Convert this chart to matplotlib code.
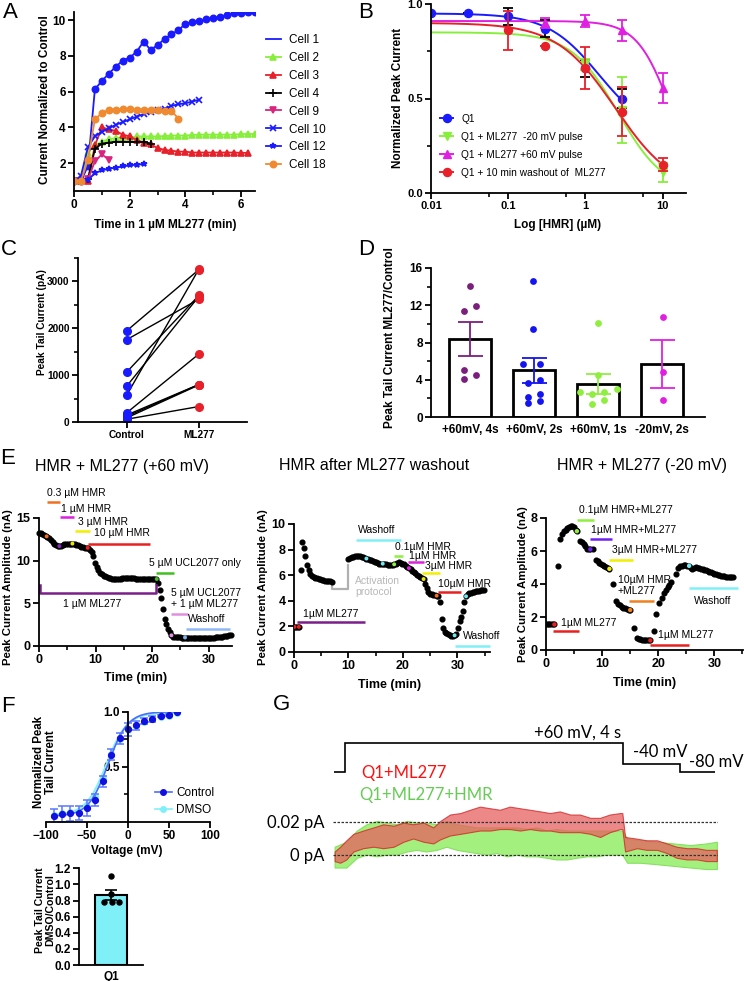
import numpy as np
import matplotlib
matplotlib.use("Agg")
import matplotlib.pyplot as plt
from matplotlib.lines import Line2D

W, H = 744, 981
plt.rcParams['font.family'] = ['Liberation Sans', 'DejaVu Sans']
plt.rcParams['font.weight'] = 'bold'
plt.rcParams['axes.linewidth'] = 1.3

# ======================= DATA =======================
# ---- Panel A: normalized current vs time in ML277
a_time = [0.0, 0.25, 0.5, 0.75, 1.0, 1.25, 1.5, 1.75, 2.0, 2.25, 2.5, 2.75, 3.0, 3.25,
          3.5, 3.75, 4.0, 4.25, 4.5, 4.75, 5.0, 5.25, 5.5, 5.75, 6.0, 6.25, 6.5]
a_names = ['Cell 1', 'Cell 2', 'Cell 3', 'Cell 4', 'Cell 9', 'Cell 10', 'Cell 12', 'Cell 18']
a_cell1 = [1.0, 1.0, 1.85, 6.13, 6.6, 7.0, 7.4, 7.73, 7.9, 8.23, 8.8, 8.33, 8.6, 8.94, 9.2,
           9.44, 9.78, 9.9, 9.92, 10.04, 10.1, 10.19, 10.28, 10.4, 10.4, 10.46, 10.44]
a_cell2 = [1.0, 1.0, 2.6, 3.0, 3.2, 3.35, 3.4, 3.45, 3.45, 3.5, 3.5, 3.5, 3.5, 3.52, 3.55,
           3.55, 3.55, 3.58, 3.6, 3.6, 3.6, 3.6, 3.6, 3.6, 3.62, 3.65, 3.62]
a_cell3 = [1.0, 1.0, 1.0, 3.0, 4.0, 3.9, 3.8, 3.6, 3.5, 3.3, 3.15, 3.05, 2.85, 2.75, 2.7,
           2.65, 2.65, 2.6, 2.6, 2.6, 2.6, 2.6, 2.6, 2.6, 2.58, 2.58]
a_cell4 = [1.0, 1.0, 1.1, 2.8, 3.1, 3.15, 3.2, 3.2, 3.2, 3.2, 3.2, 3.1]
a_cell9 = [1.0, 1.0, 1.1, 2.1, 2.5, 2.2]
a_cell10 = [1.0, 1.3, 2.9, 3.5, 3.75, 3.95, 4.15, 4.3, 4.45, 4.6, 4.75, 4.85, 4.95, 5.05,
            5.2, 5.3, 5.35, 5.45, 5.55]
a_cell12 = [1.0, 1.0, 1.05, 1.45, 1.6, 1.7, 1.75, 1.82, 1.88, 1.92, 1.95]
a_cell18 = [1.0, 1.0, 2.2, 4.45, 4.8, 5.0, 5.0, 5.05, 5.02, 5.0, 5.0, 4.98, 4.95, 4.9, 4.92, 4.5]

# ---- Panel B: dose response (mean, sem) + Hill fit parameters
b_labels = ['Q1', 'Q1 + ML277  -20 mV pulse', 'Q1 + ML277 +60 mV pulse',
            'Q1 + 10 min washout of  ML277']
b_conc_q1 = [0.01, 0.03, 0.1, 0.3, 1, 3]
b_q1 = [0.95, 0.95, 0.935, 0.87, 0.66, 0.50]
b_q1_err = [0.0, 0.0, 0.045, 0.045, 0.045, 0.05]
b_conc_m20 = [1, 3, 10]
b_m20 = [0.68, 0.44, 0.11]
b_m20_err = [0.03, 0.175, 0.05]
b_conc_p60 = [0.3, 1, 3, 10]
b_p60 = [0.90, 0.91, 0.86, 0.555]
b_p60_err = [0.025, 0.03, 0.055, 0.08]
b_conc_wash = [0.1, 0.3, 1, 3, 10]
b_wash = [0.86, 0.78, 0.66, 0.43, 0.15]
b_wash_err = [0.105, 0.0, 0.11, 0.13, 0.035]
# fitted Hill curves: (top, bottom, IC50, n, max conc)
b_fit_q1 = (0.95, 0.30, 1.5, 1.3, 3)
b_fit_m20 = (0.85, 0.0, 2.64, 1.43, 10)
b_fit_p60 = (0.91, 0.0, 12.5, 2.0, 10)
b_fit_wash = (0.90, 0.0, 2.43, 1.14, 10)

# ---- Panel C: paired peak tail currents (pA)
c_groups = ['Control', 'ML277']
c_control = [1950, 1760, 1070, 770, 580, 200, 150, 120, 90, 60]
c_ml277 = [3250, 2620, 2700, 2680, 3260, 1450, 800, 800, 790, 330]

# ---- Panel D: ratio ML277/control
d_groups = ['+60mV, 4s', '+60mV, 2s', '+60mV, 1s', '-20mV, 2s']
d_means = [8.4, 5.0, 3.55, 5.7]
d_sems = [1.8, 1.3, 1.05, 2.6]
d_points = [[14.1, 11.9, 11.4, 5.0, 4.5, 4.1],
            [14.6, 9.5, 5.7, 5.7, 4.0, 3.6, 2.5, 2.1, 1.7, 1.5],
            [10.1, 4.5, 3.0, 2.7, 2.7, 2.5, 1.8, 1.4],
            [10.7, 4.8, 1.8]]

# ---- Panel E1: HMR + ML277 (+60 mV), sampled every 0.3 min
e1_dt = 0.3
e1_vals = [13.3, 13.2, 13.1, 13.0, 12.9, 12.75, 12.6, 12.4, 12.2, 12.0,
           11.85, 11.75, 11.7, 11.75, 11.85, 11.95, 12.0, 12.0, 12.0, 12.0,
           11.95, 11.9, 11.85, 11.8, 11.7, 11.6, 11.55, 11.5, 11.5, 11.45,
           11.3, 11.0, 10.5, 9.7, 9.2, 8.9, 8.6, 8.4, 8.25, 8.15,
           8.05, 8.0, 7.95, 7.9, 7.9,
           7.9, 7.9, 7.9, 7.9, 7.95, 7.95, 7.95, 7.95, 7.95, 7.95, 7.95, 7.95, 7.9,
           7.9, 7.9, 7.9, 7.9, 7.9, 7.9, 7.9, 7.9, 7.85, 7.85, 7.85, 7.85,
           7.4, 6.6, 5.6, 4.3, 3.2, 2.6, 2.0, 1.6, 1.25, 1.1, 1.05,
           1.0, 1.0, 1.0, 0.98, 0.97, 0.96, 0.95, 0.95, 0.94, 0.93, 0.92, 0.92,
           0.91, 0.9, 0.9, 0.9, 0.9, 0.9, 0.91, 0.92, 0.94, 0.96, 0.98, 1.0,
           1.02, 1.05, 1.08, 1.11, 1.15, 1.19, 1.23, 1.28, 1.33]
e1_evt_t = [1.35, 3.6, 5.9, 8.6, 20.8, 23.4, 25.8]
e1_evt_v = [12.85, 11.7, 12.0, 11.5, 7.85, 1.25, 1.0]
e1_evt_c = ['#F07020', '#8A2BC0', '#E8E800', '#E82020', '#40C020', '#E090E0', '#80B0F0']
e1_bar_labels = ['0.3 µM HMR', '1 µM HMR', '3 µM HMR', '10 µM HMR', '5 µM UCL2077 only',
                 '5 µM UCL2077\n+ 1 µM ML277', 'Washoff']
e1_bar_start = [1.4, 3.7, 6.3, 8.7, 20.6, 23.3, 25.9]
e1_bar_end = [3.7, 6.2, 9.0, 19.6, 23.8, 26.3, 33.7]
e1_bar_level = [16.9, 15.1, 13.5, 12.0, 8.6, 3.8, 2.05]
e1_bar_colors = ['#F07020', '#E020E0', '#F0F000', '#E82020', '#40C020', '#E090E0', '#90B8F8']
e1_ml277_span = (0.1, 20.6, 6.25, 7.2)

# ---- Panel E2: HMR after ML277 washout
e2_t1 = [0.1, 0.4, 0.7, 0.9, 1.2, 1.5, 1.8, 2.1, 2.4, 2.7, 3.0, 3.3, 3.6, 3.9, 4.2, 4.5,
         4.8, 5.1, 5.4, 5.7, 6.0, 6.3, 6.6, 6.9]
e2_v1 = [1.96, 1.96, 1.96, 1.96, 6.4, 8.6, 8.1, 7.5, 6.8, 6.4, 6.1, 5.95, 5.85, 5.8, 5.75,
         5.7, 5.67, 5.63, 5.6, 5.58, 5.56, 5.55, 5.52, 5.5]
e2_t2_start = 10.0
e2_dt = 0.3
e2_v2 = [7.3, 7.35, 7.4, 7.45, 7.5, 7.5, 7.5, 7.5, 7.45, 7.4, 7.35, 7.3, 7.25, 7.2, 7.15,
         7.1, 7.05, 7.0, 6.95, 6.9, 6.9, 6.9, 6.88, 6.85, 6.83, 6.8, 6.8, 6.8, 6.85, 6.9,
         6.95, 7.0, 6.98, 6.9, 6.85, 6.75, 6.65, 6.55, 6.45, 6.35, 6.25, 6.15, 6.05, 5.95,
         5.85, 5.8, 5.7, 5.35, 5.0, 4.7, 4.55, 4.5, 4.45, 4.42, 4.4, 4.38, 3.9, 2.6, 1.85,
         1.6, 1.45, 1.38, 1.32, 1.28, 1.25, 1.3, 1.38, 1.9, 2.4, 2.75, 3.2, 3.9, 4.35, 4.5,
         4.58, 4.63, 4.68, 4.72, 4.75, 4.78, 4.8, 4.82, 4.85, 4.88]
e2_protocol_t = [6.9, 6.9, 10.0, 10.0]
e2_protocol_v = [5.5, 4.96, 4.96, 6.8]
e2_evt_t = [0.1, 0.9, 13.3, 16.3, 18.4, 21.1, 23.8, 26.2, 29.5, 31.6]
e2_evt_v = [1.96, 1.96, 7.3, 6.9, 6.85, 6.55, 5.7, 4.4, 1.3, 4.35]
e2_evt_c = ['#E82020', '#E82020', '#70E8F0', '#70E8F0', '#90F040', '#E020E0', '#E8E800',
            '#F07020', '#70E8F0', '#70E8F0']
e2_bar_labels = ['Washoff', '0.1µM HMR', '1µM HMR', '3µM HMR', '10µM HMR', 'Washoff',
                 '1µM ML277']
e2_bar_start = [11.4, 18.4, 21.0, 23.5, 26.4, 29.6, 0.55]
e2_bar_end = [19.7, 20.1, 23.8, 26.9, 30.7, 36.0, 13.0]
e2_bar_level = [8.75, 7.5, 7.0, 6.2, 4.7, 0.44, 2.35]
e2_bar_colors = ['#80F0F8', '#90F040', '#E020E0', '#F0F000', '#E82020', '#80F0F8', '#7A1F8A']

# ---- Panel E3: HMR + ML277 (-20 mV)
e3_t = [0.0, 0.3, 0.6, 0.9, 1.2, 1.5, 2.1, 2.55, 2.9, 3.2, 3.5, 3.8, 4.1, 4.4, 4.7, 5.0,
        5.3, 5.5, 6.1, 6.4, 6.7, 7.0, 7.3, 7.6, 7.9, 8.4, 8.9, 9.2, 9.5, 9.8, 10.1, 10.4,
        10.7, 11.0, 11.3, 12.0, 12.5, 12.9, 13.2, 13.5, 13.8, 14.1, 14.4, 14.7, 15.0, 15.6,
        16.2, 16.5, 16.8, 17.1, 17.4, 17.7, 18.0, 18.3, 18.6, 19.2, 19.6, 20.2, 20.6, 21.0,
        21.4, 21.7, 22.0, 22.3, 23.2, 23.6, 23.9, 24.2, 24.5, 24.8, 25.1, 25.5, 25.8, 26.1,
        26.4, 26.7, 27.0, 27.3, 27.6, 27.9, 28.2, 28.5, 28.8, 29.1, 29.4, 29.7, 30.0, 30.3,
        30.6, 30.9, 31.2, 31.5, 31.8, 32.1, 32.4, 32.7, 33.0, 33.3]
e3_v = [1.6, 1.6, 1.6, 1.6, 1.6, 1.55, 5.08, 6.75, 7.05, 7.2, 7.3, 7.38, 7.45, 7.52, 7.5,
        7.45, 7.3, 7.2, 6.6, 6.55, 6.45, 6.3, 6.15, 6.12, 6.1, 6.1, 5.45, 5.38, 5.3, 5.22,
        5.15, 5.1, 5.03, 4.97, 4.92, 4.03, 2.98, 2.78, 2.7, 2.62, 2.56, 2.52, 2.48, 2.45,
        2.42, 1.31, 0.75, 0.68, 0.65, 0.63, 0.62, 0.6, 0.6, 0.6, 0.58, 1.15, 2.2, 2.82,
        3.17, 3.45, 3.65, 3.83, 3.95, 4.1, 4.58, 5.0, 5.08, 5.12, 5.14, 5.14, 5.12, 5.1,
        4.95, 4.92, 4.98, 5.02, 5.0, 4.96, 4.93, 4.9, 4.86, 4.82, 4.78, 4.74, 4.7, 4.67,
        4.63, 4.6, 4.57, 4.54, 4.51, 4.49, 4.47, 4.45, 4.44, 4.43, 4.42, 4.43]
e3_evt_t = [1.5, 5.5, 7.9, 11.3, 15.0, 18.6, 25.5]
e3_evt_v = [1.55, 7.2, 6.1, 4.92, 2.42, 0.58, 5.1]
e3_evt_c = ['#E82020', '#90F040', '#7020F0', '#F0F000', '#F08020', '#E82020', '#70E8F0']
e3_bar_labels = ['0.1µM HMR+ML277', '1µM HMR+ML277', '3µM HMR+ML277', '10µM HMR\n+ML277',
                 'Washoff', '1µM ML277', '1µM ML277']
e3_bar_start = [5.5, 7.9, 11.3, 14.8, 25.4, 1.3, 18.6]
e3_bar_end = [8.6, 11.8, 15.5, 19.2, 34.2, 5.8, 25.5]
e3_bar_level = [7.9, 6.7, 5.45, 3.0, 3.73, 1.15, 0.3]
e3_bar_colors = ['#90F040', '#7020F0', '#F0F000', '#F08020', '#80F0F8', '#E82020', '#E82020']

# ---- Panel F: activation curves and DMSO ratio
f_volt = [-90, -80, -70, -60, -50, -40, -30, -20, -10, 0, 10, 20, 30, 40, 50, 60]
f_ctrl = [0.05, 0.07, 0.075, 0.077, 0.125, 0.20, 0.37, 0.61, 0.76, 0.84, 0.875, 0.915,
          0.935, 0.96, 0.97, 0.995]
f_ctrl_err = [0.07, 0.07, 0.07, 0.065, 0.07, 0.055, 0.05, 0.05, 0.05, 0.06, 0.04, 0.025,
              0.03, 0.01, 0.01, 0.0]
f_dmso = [0.06, 0.08, 0.085, 0.09, 0.14, 0.23, 0.40, 0.62, 0.75, 0.83, 0.87, 0.91, 0.93,
          0.955, 0.965, 0.99]
f_fit_ctrl = (0.05, 1.0, -24.0, 12.0)   # bottom, top, V1/2, slope
f_fit_dmso = (0.06, 0.99, -26.0, 12.5)
f_ratio_group = ['Q1']
f_ratio_mean = [0.87]
f_ratio_sem = [0.065]
f_ratio_points = [1.11, 0.877, 0.786, 0.786, 0.786]

# ---- Panel G: voltage protocol and current traces (envelopes)
g_proto_edges = [-0.16, 0.0, 4.0, 4.82, 5.32]
g_proto_mv = [-80, 60, -40, -80]
g_red_t = [-0.15, -0.07, 0.02, 0.12, 0.26, 0.41, 0.55, 0.70, 0.84, 0.98, 1.13, 1.27, 1.37,
           1.51, 1.66, 1.80, 1.94, 2.09, 2.23, 2.37, 2.52, 2.66, 2.81, 2.95, 3.09, 3.24,
           3.38, 3.53, 3.67, 3.81, 3.96, 3.99, 4.03, 4.20, 4.34, 4.49, 4.63, 4.77, 4.92,
           5.06, 5.20, 5.35]
g_red_hi = [0.0021, 0.0050, 0.0089, 0.0128, 0.0148, 0.0167, 0.0186, 0.0177, 0.0196, 0.0186,
            0.0196, 0.0167, 0.0206, 0.0245, 0.0254, 0.0274, 0.0293, 0.0283, 0.0274, 0.0293,
            0.0283, 0.0274, 0.0264, 0.0254, 0.0264, 0.0245, 0.0245, 0.0225, 0.0225, 0.0245,
            0.0254, 0.0254, 0.0109, 0.0099, 0.0089, 0.0089, 0.0070, 0.0050, 0.0041, 0.0041,
            0.0031, 0.0031]
g_red_lo = [-0.0037, -0.0047, -0.0027, 0.0021, 0.0041, 0.0050, 0.0041, 0.0050, 0.0080,
            0.0100, 0.0080, 0.0070, 0.0095, 0.0118, 0.0128, 0.0138, 0.0148, 0.0148, 0.0157,
            0.0157, 0.0148, 0.0157, 0.0148, 0.0148, 0.0138, 0.0138, 0.0138, 0.0128, 0.0109,
            0.0138, 0.0157, 0.0157, 0.0021, 0.0041, 0.0031, 0.0031, 0.0012, -0.0017,
            -0.0027, -0.0027, -0.0037, -0.0037]
g_green_t = [-0.15, 0.02, 0.17, 0.31, 0.46, 0.60, 0.74, 0.89, 1.03, 1.17, 1.32, 1.46, 1.61,
             1.75, 1.89, 2.04, 2.18, 2.33, 2.47, 2.61, 2.76, 2.90, 3.04, 3.19, 3.33, 3.48,
             3.62, 3.76, 3.91, 3.99, 4.06, 4.25, 4.49, 4.73, 4.97, 5.20, 5.35]
g_green_hi = [0.0050, 0.0080, 0.0148, 0.0186, 0.0206, 0.0196, 0.0186, 0.0206, 0.0196,
              0.0196, 0.0186, 0.0206, 0.0186, 0.0177, 0.0167, 0.0167, 0.0167, 0.0167,
              0.0167, 0.0157, 0.0167, 0.0148, 0.0157, 0.0148, 0.0148, 0.0148, 0.0148,
              0.0148, 0.0148, 0.0148, 0.0099, 0.0089, 0.0080, 0.0070, 0.0060, 0.0070, 0.0080]
g_green_lo = [-0.0076, -0.0076, -0.0017, 0.0002, -0.0008, 0.0002, 0.0002, 0.0021, 0.0031,
              0.0021, 0.0031, 0.0050, 0.0031, 0.0021, 0.0012, 0.0002, 0.0012, -0.0008,
              0.0002, -0.0008, -0.0008, -0.0017, -0.0027, -0.0027, -0.0017, -0.0008,
              -0.0008, 0.0002, 0.0002, 0.0002, -0.0047, -0.0047, -0.0056, -0.0066, -0.0076,
              -0.0085, -0.0085]
g_levels = [0.0, 0.02]
g_level_labels = ['0 pA', '0.02 pA']

# ======================= FIGURE =======================
fig = plt.figure(figsize=(W / 100, H / 100), dpi=100)


def add_ax(x0, y0, x1, y1):
    return fig.add_axes([x0 / W, 1 - y1 / H, (x1 - x0) / W, (y1 - y0) / H])


def ftext(x, y, s, **kw):
    kw.setdefault('ha', 'center')
    kw.setdefault('va', 'center')
    return fig.text(x / W, 1 - y / H, s, **kw)


def style(ax, fs, lw=1.3, tl=4):
    ax.spines['top'].set_visible(False)
    ax.spines['right'].set_visible(False)
    for s in ('left', 'bottom'):
        ax.spines[s].set_linewidth(lw)
    ax.tick_params(axis='both', which='major', labelsize=fs, length=tl, width=lw, pad=2)
    ax.tick_params(axis='both', which='minor', length=tl * 0.7, width=lw * 0.9)
    ax.patch.set_alpha(0)


def hill(x, p):
    top, bottom, ic50, n, _ = p
    return bottom + (top - bottom) / (1 + (x / ic50) ** n)


def boltz(v, p):
    bottom, top, vh, k = p
    return bottom + (top - bottom) / (1 + np.exp(-(v - vh) / k))


BLUE = '#1a1aff'
LIME = '#88ee3c'
RED = '#e8202a'
MAG = '#e020e0'

# ---- panel labels
for lab, (x, y) in zip('ABCDEFG', [(10, 13), (366, 13), (9, 250), (366, 250), (8, 458),
                                   (8, 707), (281, 705)]):
    ftext(x, y, lab, fontsize=16, fontweight='normal')

# ======================= A =======================
axA = add_ax(74, 12, 255, 191)
style(axA, 8.5)
a_series = [a_cell1, a_cell2, a_cell3, a_cell4, a_cell9, a_cell10, a_cell12, a_cell18]
a_colors = [BLUE, LIME, RED, 'black', '#d8257d', BLUE, BLUE, '#f08a30']
a_markers = ['o', '^', '^', '+', 'v', 'x', '*', 'o']
a_ms = [4.5, 4.2, 4.2, 6, 4.5, 5, 4, 4.5]
handles = []
for vals, c, m, ms, name in zip(a_series, a_colors, a_markers, a_ms, a_names):
    axA.plot(a_time[:len(vals)], vals, color=c, marker=m, ms=ms, lw=1.3, mew=1.2)
    handles.append(Line2D([], [], color=c, marker=(None if name == 'Cell 1' else m),
                          ms=ms, lw=1.3, mew=1.2, label=name))
axA.set_xlim(0, 6.5)
axA.set_ylim(0.45, 10.45)
axA.set_xticks([0, 2, 4, 6])
axA.set_xticks([1, 3, 5], minor=True)
axA.set_yticks([2, 4, 6, 8, 10])
fig.legend(handles=handles, loc='upper left', bbox_to_anchor=(266 / W, 1 - 34 / H),
           frameon=False, handlelength=1.25, handletextpad=0.7,
           labelspacing=0.5, borderpad=0, borderaxespad=0,
           prop={'weight': 'normal', 'size': 8.5})
ftext(45, 100, 'Current Normalized to Control', rotation=90, fontsize=8.5)
ftext(165, 225, 'Time in 1 µM ML277 (min)', fontsize=8.5)

# ======================= B =======================
axB = add_ax(431, 4, 686, 193)
style(axB, 8)
axB.set_xscale('log')
b_sets = [(b_conc_q1, b_q1, b_q1_err, b_fit_q1, BLUE, 'o', 'black'),
          (b_conc_m20, b_m20, b_m20_err, b_fit_m20, LIME, 'v', LIME),
          (b_conc_p60, b_p60, b_p60_err, b_fit_p60, MAG, '^', MAG),
          (b_conc_wash, b_wash, b_wash_err, b_fit_wash, RED, 'o', RED)]
bh = []
for (xc, yv, ev, fit, c, m, ec), lab in zip(b_sets, b_labels):
    xx = np.logspace(-2, np.log10(fit[4]), 200)
    axB.plot(xx, hill(xx, fit), color=c, lw=1.4)
for (xc, yv, ev, fit, c, m, ec), lab in zip(b_sets, b_labels):
    axB.errorbar(xc, yv, yerr=ev, fmt='none', ecolor=ec, elinewidth=1.3, capsize=3.5,
                 capthick=1.3)
    axB.plot(xc, yv, ls='none', marker=m, color=c, ms=5.8)
    bh.append(Line2D([], [], color=c, marker=m, ms=5.8, lw=1.4, label=lab))
axB.set_xlim(0.01, 20)
axB.set_ylim(0, 1.0)
axB.set_xticks([0.01, 0.1, 1, 10])
axB.set_xticklabels(['0.01', '0.1', '1', '10'])
axB.set_xticks([0.056, 0.56, 5.6], minor=True)
axB.xaxis.set_minor_formatter(plt.NullFormatter())
axB.set_yticks([0, 0.5, 1.0])
axB.set_yticklabels(['0.0', '0.5', '1.0'])
axB.set_yticks([0.25, 0.75], minor=True)
fig.legend(handles=bh, loc='upper left', bbox_to_anchor=(440 / W, 1 - 114 / H),
           frameon=False, handlelength=1.3, handletextpad=0.8, labelspacing=0.78,
           borderpad=0, borderaxespad=0, prop={'weight': 'normal', 'size': 7.3})
ftext(398, 98, 'Normalized Peak Current', rotation=90, fontsize=8.5)
ftext(558, 225, 'Log [HMR] (µM)', fontsize=8.5)

# ======================= C =======================
axC = add_ax(78, 258, 247, 422)
style(axC, 7.3)
for a, b in zip(c_control, c_ml277):
    axC.plot([0, 1], [a, b], color='black', lw=1.0)
axC.plot([0] * len(c_control), c_control, 'o', color=BLUE, ms=5.5)
axC.plot([1] * len(c_ml277), c_ml277, 'o', color=RED, ms=5.5)
axC.set_xlim(-0.68, 1.67)
axC.set_ylim(0, 3500)
axC.set_xticks([0, 1])
axC.set_xticklabels(c_groups)
axC.set_yticks([0, 1000, 2000, 3000])
axC.set_yticks([500, 1500, 2500, 3500], minor=True)
ftext(42, 322, 'Peak Tail Current (pA)', rotation=90, fontsize=7.3)

# ======================= D =======================
axD = add_ax(431, 268, 705, 417)
style(axD, 8.5)
d_colors = ['#7B1F7D', '#1414f0', '#90ee40', '#e020e0']
d_jitter = [[0, 0.1, -0.09, -0.09, 0.1, -0.09],
            [-0.01, -0.01, -0.18, 0.09, 0.09, -0.1, 0.09, -0.1, 0.09, -0.1],
            [0, 0, 0.29, -0.29, 0.09, -0.09, 0.09, -0.09],
            [0.01, 0.01, 0.01]]
xs = np.arange(len(d_groups))
axD.bar(xs, d_means, width=0.65, color='white', edgecolor='black', linewidth=2, zorder=1)
for i in range(len(d_groups)):
    axD.errorbar(xs[i], d_means[i], yerr=d_sems[i], fmt='none', ecolor=d_colors[i],
                 elinewidth=1.3, capsize=9, capthick=1.3, zorder=2)
    axD.scatter(xs[i] + np.array(d_jitter[i]), d_points[i], s=24, color=d_colors[i],
                zorder=3, linewidths=0)
axD.set_xlim(-0.61, 3.67)
axD.set_ylim(0, 16)
axD.set_xticks(xs)
axD.set_xticklabels(d_groups)
axD.tick_params(axis='x', length=0, pad=5)
axD.set_yticks([0, 4, 8, 12, 16])
axD.set_yticks([2, 6, 10, 14], minor=True)
ftext(390, 338, 'Peak Tail Current ML277/Control', rotation=90, fontsize=8.5)

# ======================= E =======================
ann_fs = 7.5


def e_bars(ax, starts, ends, levels, colors):
    for s, e, lv, c in zip(starts, ends, levels, colors):
        ax.plot([s, e], [lv, lv], color=c, lw=1.8, clip_on=False, solid_capstyle='butt')


def e_texts(ax, labels, pos):
    for lab, (x, y) in zip(labels, pos):
        ax.text(x, y, lab, fontsize=ann_fs, fontweight='normal', ha='left', va='center',
                linespacing=1.15, clip_on=False)


# E1
axE1 = add_ax(39, 518, 232, 646)
style(axE1, 9)
e1_time = np.arange(len(e1_vals)) * e1_dt
axE1.plot(e1_time, e1_vals, 'o', color='black', ms=3.4, clip_on=False)
axE1.scatter(e1_evt_t, e1_evt_v, s=8, c=e1_evt_c, zorder=3, linewidths=0)
e_bars(axE1, e1_bar_start, e1_bar_end, e1_bar_level, e1_bar_colors)
s0, s1, lv, top = e1_ml277_span
axE1.plot([s0, s0, s1, s1], [top, lv, lv, top], color='#7A1F8A', lw=1.8, clip_on=False)
e_texts(axE1, e1_bar_labels, [(1.4, 17.9), (3.9, 16.1), (6.9, 14.5), (9.7, 13.25),
                              (19.4, 9.75), (23.3, 5.6), (26.3, 3.15)])
axE1.text(9.3, 4.9, '1 µM ML277', fontsize=ann_fs, fontweight='normal', ha='center',
          va='center')
axE1.set_xlim(0, 34.1)
axE1.set_ylim(0, 15)
axE1.set_xticks([0, 10, 20, 30])
axE1.set_xticks([5, 15, 25], minor=True)
axE1.set_yticks([0, 5, 10, 15])
ftext(8, 587, 'Peak Current Amplitude (nA)', rotation=90, fontsize=8.2)
ftext(136, 678, 'Time (min)', fontsize=9)
ftext(122, 467, 'HMR + ML277 (+60 mV)', fontsize=11.5, fontweight='normal')

# E2
axE2 = add_ax(294, 524, 490, 652)
style(axE2, 9)
e2_t2 = e2_t2_start + np.arange(len(e2_v2)) * e2_dt
axE2.plot(e2_protocol_t, e2_protocol_v, color='#b0b0b0', lw=1.6)
axE2.plot(e2_t1, e2_v1, 'o', color='black', ms=3.4)
axE2.plot(e2_t2, e2_v2, 'o', color='black', ms=3.4)
axE2.scatter(e2_evt_t, e2_evt_v, s=8, c=e2_evt_c, zorder=3, linewidths=0)
e_bars(axE2, e2_bar_start, e2_bar_end, e2_bar_level, e2_bar_colors)
e_texts(axE2, e2_bar_labels, [(11.8, 9.53), (18.6, 8.17), (21.2, 7.5), (24.1, 6.7),
                              (26.4, 5.28), (31.0, 1.25), (1.7, 3.0)])
axE2.text(11.2, 5.1, 'Activation\nprotocol', fontsize=ann_fs, fontweight='normal',
          ha='left', va='center', color='#b8b8b8', linespacing=1.15)
axE2.set_xlim(0, 36)
axE2.set_ylim(0, 10)
axE2.set_xticks([0, 10, 20, 30])
axE2.set_xticks([5, 15, 25, 35], minor=True)
axE2.set_yticks([0, 2, 4, 6, 8, 10])
ftext(263, 587, 'Peak Current Amplitude (nA)', rotation=90, fontsize=8.2)
ftext(390, 685, 'Time (min)', fontsize=9)
ftext(374, 466, 'HMR after ML277 washout', fontsize=11.5, fontweight='normal')

# E3
axE3 = add_ax(546, 518, 743, 650)
style(axE3, 9)
axE3.plot(e3_t, e3_v, 'o', color='black', ms=3.4)
axE3.scatter(e3_evt_t, e3_evt_v, s=10, c=e3_evt_c, zorder=3, linewidths=0)
e_bars(axE3, e3_bar_start, e3_bar_end, e3_bar_level, e3_bar_colors)
e_texts(axE3, e3_bar_labels, [(5.9, 8.46), (8.0, 7.26), (11.7, 6.09), (12.8, 3.93),
                              (26.3, 2.98), (2.67, 1.61), (19.9, 0.91)])
axE3.set_xlim(0, 35.1)
axE3.set_ylim(0, 8)
axE3.set_xticks([0, 10, 20, 30])
axE3.set_xticks([5, 15, 25, 35], minor=True)
axE3.set_yticks([0, 2, 4, 6, 8])
ftext(523, 584, 'Peak Current Amplitude (nA)', rotation=90, fontsize=8.2)
ftext(645, 683, 'Time (min)', fontsize=9)
ftext(642, 466, 'HMR + ML277 (-20 mV)', fontsize=11.5, fontweight='normal')

# ======================= F =======================
axF = add_ax(45.7, 711.7, 210, 821.7)
style(axF, 8.5)
axF.spines['left'].set_position(('data', 0))
vv = np.linspace(-90, 60, 200)
axF.plot(vv, boltz(vv, f_fit_dmso), color='#80f0f8', lw=1.4)
axF.plot(f_volt, f_dmso, 'o', color='#80f0f8', ms=4)
axF.plot(vv, boltz(vv, f_fit_ctrl), color='#4a6cff', lw=1.2)
axF.errorbar(f_volt, f_ctrl, yerr=f_ctrl_err, fmt='none', ecolor='#5a78ff', elinewidth=1.1,
             capsize=3, capthick=1.1)
axF.plot(f_volt, f_ctrl, 'o', color='#1010e0', ms=4.2)
axF.set_xlim(-100, 100)
axF.set_ylim(0, 1.0)
axF.set_xticks([-100, -50, 0, 50, 100])
axF.set_yticks([0.5, 1.0])
axF.set_yticklabels(['0.5', '1.0'])
axF.set_yticks([0.25, 0.75], minor=True)
fh = [Line2D([], [], color='#4a6cff', marker='o', mfc='#1010e0', mec='#1010e0', ms=4,
             lw=1.2, label='Control'),
      Line2D([], [], color='#80f0f8', marker='o', ms=4, lw=1.2, label='DMSO')]
fig.legend(handles=fh, loc='upper left', bbox_to_anchor=(155 / W, 1 - 787 / H),
           frameon=False, handlelength=1.4, handletextpad=0.4, labelspacing=0.45,
           borderpad=0, borderaxespad=0, prop={'weight': 'normal', 'size': 8.5})
ftext(45, 762, 'Normalized Peak\nTail Current', rotation=90, fontsize=8.3,
      linespacing=1.05)
ftext(127, 851, 'Voltage (mV)', fontsize=8.5)

axF2 = add_ax(79.3, 868.3, 143, 965)
style(axF2, 8.5)
axF2.bar([0], f_ratio_mean, width=1.0, color='#80f0f8', edgecolor='black', linewidth=1.5)
axF2.errorbar([0], f_ratio_mean, yerr=f_ratio_sem, fmt='none', ecolor='black',
              elinewidth=1.2, capsize=4.5, capthick=1.2)
f_jit = [0.01, 0.01, -0.23, 0.03, 0.26]
axF2.plot(np.array(f_jit), f_ratio_points, 'o', color='black', ms=3.6)
axF2.set_xlim(-1, 1.01)
axF2.set_ylim(0, 1.2)
axF2.set_xticks([0])
axF2.set_xticklabels(f_ratio_group)
axF2.tick_params(axis='x', length=0, pad=4)
axF2.set_yticks([0.0, 0.2, 0.4, 0.6, 0.8, 1.0, 1.2])
axF2.set_yticklabels(['0.0', '0.2', '0.4', '0.6', '0.8', '1.0', '1.2'])
ftext(45, 910, 'Peak Tail Current\nDMSO/Control', rotation=90, fontsize=7.6,
      linespacing=1.05)

# ======================= G =======================
g_font = ['Lato', 'DejaVu Sans']
axGp = add_ax(333, 740, 718, 775)
axGp.stairs(g_proto_mv, g_proto_edges, baseline=None, color='black', lw=1.2)
axGp.set_xlim(-0.173, 5.367)
axGp.set_ylim(-94.5, 74.5)
axGp.axis('off')
axGp.text(3.34, 108, '+60 mV, 4 s', fontsize=12, family=g_font, fontweight='normal',
          ha='center', va='center')
axGp.text(4.53, 18, '-40 mV', fontsize=12, family=g_font, fontweight='normal',
          ha='center', va='center')
axGp.text(5.34, -30, '-80 mV', fontsize=12, family=g_font, fontweight='normal',
          ha='center', va='center')

axG = add_ax(333, 800, 718, 880)
axG.fill_between(g_green_t, g_green_lo, g_green_hi, color='#a4f07e', lw=0.8,
                 edgecolor='#86e060')
axG.fill_between(g_red_t, g_red_lo, g_red_hi, color='#e86060', alpha=0.75, lw=0.8,
                 edgecolor='#d02020')
for lv in g_levels:
    axG.axhline(lv, color='#333333', lw=0.9, ls=(0, (2, 1.2)))
axG.set_xlim(-0.173, 5.367)
axG.set_ylim(-0.01515, 0.0333)
for s in axG.spines.values():
    s.set_visible(False)
axG.set_xticks([])
axG.set_yticks(g_levels)
axG.set_yticklabels(g_level_labels, family=g_font, fontweight='normal', fontsize=12)
axG.tick_params(axis='y', length=0, pad=6)
axG.patch.set_alpha(0)
ftext(404, 773, 'Q1+ML277', color='#ff1010', fontsize=12, family=g_font,
      fontweight='normal')
ftext(426, 795, 'Q1+ML277+HMR', color='#66cc55', fontsize=12, family=g_font,
      fontweight='normal')

fig.savefig('out.png', dpi=100)
